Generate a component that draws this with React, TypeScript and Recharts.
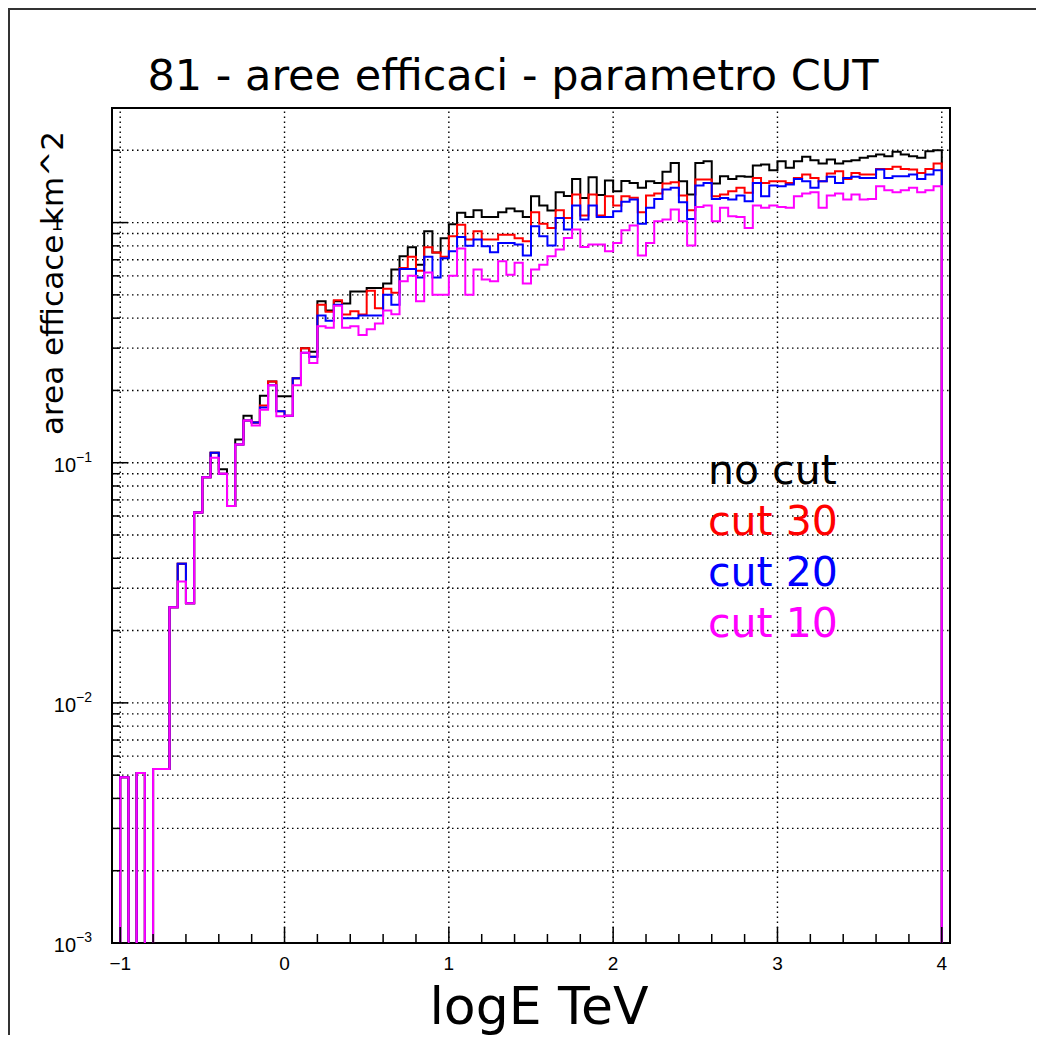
import React from "react";
import { LineChart, Line, XAxis, YAxis, CartesianGrid, ReferenceLine, ReferenceArea } from "recharts";

// histogram binning: 100 bins of 0.05 in logE, from -1 to 4
const BIN_START = -1;
const BIN_WIDTH = 0.05;
// empty bins (value 0) cannot sit on a log axis, push them below the frame
const FLOOR = 1e-4;

const noCut = [
  0.0049, 0, 0.0051, 0, 0.0053, 0.0053, 0.025, 0.038, 0.026, 0.062,
  0.087, 0.11, 0.094, 0.066, 0.125, 0.157, 0.147, 0.19, 0.218, 0.189,
  0.189, 0.225, 0.3, 0.29, 0.47, 0.43, 0.47, 0.46, 0.517, 0.517,
  0.534, 0.534, 0.557, 0.637, 0.724, 0.79, 0.668, 0.92, 0.75, 0.86,
  0.985, 1.1, 1.056, 1.125, 1.056, 1.056, 1.104, 1.144, 1.115, 1.056,
  1.287, 1.177, 1.122, 1.338, 1.29, 1.52, 1.267, 1.545, 1.304, 1.496,
  1.35, 1.49, 1.463, 1.395, 1.487, 1.463, 1.627, 1.772, 1.487, 1.308,
  1.772, 1.8, 1.454, 1.559, 1.52, 1.559, 1.55, 1.727, 1.745, 1.652,
  1.8, 1.69, 1.8, 1.878, 1.818, 1.76, 1.83, 1.76, 1.8, 1.818,
  1.86, 1.89, 1.92, 1.89, 1.97, 1.92, 1.89, 1.86, 1.98, 2.0,
];

const cut30 = [
  0.0049, 0, 0.0051, 0, 0.0053, 0.0053, 0.025, 0.038, 0.026, 0.062,
  0.087, 0.11, 0.09, 0.066, 0.119, 0.15, 0.147, 0.173, 0.218, 0.164,
  0.157, 0.225, 0.3, 0.276, 0.455, 0.425, 0.475, 0.414, 0.427, 0.414,
  0.52, 0.44, 0.53, 0.51, 0.647, 0.72, 0.63, 0.79, 0.75, 0.72,
  0.877, 0.98, 0.85, 0.92, 0.85, 0.85, 0.89, 0.89, 0.86, 0.836,
  1.104, 0.99, 0.95, 1.125, 1.046, 1.308, 1.07, 1.308, 1.07, 1.287,
  1.177, 1.287, 1.27, 1.104, 1.296, 1.321, 1.454, 1.472, 1.296, 1.125,
  1.511, 1.511, 1.287, 1.308, 1.35, 1.395, 1.33, 1.535, 1.463, 1.487,
  1.487, 1.463, 1.535, 1.585, 1.535, 1.487, 1.6, 1.636, 1.52, 1.61,
  1.585, 1.585, 1.673, 1.673, 1.706, 1.673, 1.662, 1.61, 1.673, 1.76,
];

const cut20 = [
  0.0049, 0, 0.0051, 0, 0.0053, 0.0053, 0.025, 0.038, 0.026, 0.062,
  0.087, 0.11, 0.09, 0.066, 0.119, 0.15, 0.147, 0.17, 0.21, 0.164,
  0.157, 0.225, 0.287, 0.276, 0.41, 0.39, 0.455, 0.4, 0.4, 0.41,
  0.41, 0.41, 0.5, 0.455, 0.64, 0.64, 0.59, 0.72, 0.59, 0.71,
  0.76, 0.87, 0.8, 0.85, 0.797, 0.752, 0.823, 0.823, 0.81, 0.729,
  0.965, 0.877, 0.802, 1.046, 0.935, 1.177, 1.03, 1.177, 1.056, 1.056,
  1.115, 1.22, 1.247, 0.99, 1.152, 1.255, 1.373, 1.395, 1.215, 1.036,
  1.426, 1.463, 1.255, 1.267, 1.247, 1.296, 1.227, 1.463, 1.287, 1.426,
  1.417, 1.44, 1.52, 1.487, 1.395, 1.487, 1.55, 1.463, 1.535, 1.55,
  1.535, 1.535, 1.662, 1.535, 1.56, 1.56, 1.585, 1.52, 1.585, 1.652,
];

const cut10 = [
  0.0049, 0, 0.0051, 0, 0.0053, 0.0053, 0.025, 0.032, 0.026, 0.062,
  0.087, 0.105, 0.09, 0.066, 0.119, 0.15, 0.143, 0.166, 0.21, 0.156,
  0.157, 0.21, 0.287, 0.26, 0.37, 0.365, 0.45, 0.365, 0.37, 0.34,
  0.36, 0.38, 0.43, 0.415, 0.57, 0.6, 0.47, 0.62, 0.5, 0.5,
  0.6, 0.78, 0.5, 0.637, 0.579, 0.57, 0.69, 0.607, 0.68, 0.557,
  0.637, 0.668, 0.724, 0.772, 0.863, 0.935, 0.792, 0.81, 0.81, 0.759,
  0.823, 0.93, 0.972, 0.729, 0.823, 1.013, 1.029, 1.133, 1.013, 0.802,
  1.162, 1.177, 1.013, 1.152, 1.062, 1.056, 0.95, 1.177, 1.152, 1.177,
  1.162, 1.152, 1.287, 1.321, 1.338, 1.152, 1.296, 1.321, 1.247, 1.308,
  1.247, 1.255, 1.417, 1.364, 1.338, 1.364, 1.395, 1.338, 1.364, 1.417,
];

const series = [
  { key: "noCut", label: "no cut", color: "#000000", values: noCut },
  { key: "cut30", label: "cut 30", color: "#ff0000", values: cut30 },
  { key: "cut20", label: "cut 20", color: "#0000ff", values: cut20 },
  { key: "cut10", label: "cut 10", color: "#ff00ff", values: cut10 },
];

const xTicks = [
  -1, -0.8, -0.6, -0.4, -0.2, 0, 0.2, 0.4, 0.6, 0.8, 1, 1.2, 1.4, 1.6, 1.8,
  2, 2.2, 2.4, 2.6, 2.8, 3, 3.2, 3.4, 3.6, 3.8, 4,
];
const xGrid = [-1, 0, 1, 2, 3, 4];
const yTicks = [
  0.001, 0.002, 0.003, 0.004, 0.005, 0.006, 0.007, 0.008, 0.009,
  0.01, 0.02, 0.03, 0.04, 0.05, 0.06, 0.07, 0.08, 0.09,
  0.1, 0.2, 0.3, 0.4, 0.5, 0.6, 0.7, 0.8, 0.9,
  1, 2,
];

const title = "81 - aree efficaci - parametro CUT";
const xTitle = "logE TeV";
const yTitle = "area efficace km^2";

// step rows: a closing floor point at each end so the outline drops to the axis
const nBins = noCut.length;
const rows: Record<string, number>[] = [];
const floorRow = (x: number) => {
  const r: Record<string, number> = { x };
  series.forEach((s) => (r[s.key] = FLOOR));
  return r;
};
rows.push(floorRow(BIN_START));
for (let i = 0; i < nBins; i++) {
  const r: Record<string, number> = { x: +(BIN_START + i * BIN_WIDTH).toFixed(4) };
  series.forEach((s) => (r[s.key] = s.values[i] > 0 ? s.values[i] : FLOOR));
  rows.push(r);
}
rows.push(floorRow(+(BIN_START + nBins * BIN_WIDTH).toFixed(4)));

const tickFont = "'Liberation Sans', Arial, sans-serif";
const textFont = "'DejaVu Sans', Verdana, sans-serif";
const gridDash = "1.5 3.5";

function XTick(props: any) {
  const { x, y, payload } = props;
  const v = payload.value;
  const major = Math.abs(v - Math.round(v)) < 1e-6;
  return (
    <g>
      <line x1={x} x2={x} y1={y} y2={y - (major ? 16 : 9)} stroke="#000" strokeWidth={1.5} />
      {major && (
        <text x={x} y={y + 27} textAnchor="middle" fontSize={19} fontFamily={tickFont} fill="#000">
          {v < 0 ? "\u2212" + Math.abs(v) : String(v)}
        </text>
      )}
    </g>
  );
}

function YTick(props: any) {
  const { x, y, payload } = props;
  const v = payload.value;
  const lg = Math.log10(v);
  const exp = Math.round(lg);
  const major = Math.abs(lg - exp) < 1e-6;
  return (
    <g>
      <line x1={x} x2={x + (major ? 16 : 8)} y1={y} y2={y} stroke="#000" strokeWidth={1.5} />
      {major && exp === 0 && (
        <text x={x - 55} y={y + 7} textAnchor="middle" fontSize={20} fontFamily={tickFont} fill="#000">
          1
        </text>
      )}
      {major && exp !== 0 && (
        <text x={x - 20} y={y + 9} textAnchor="end" fontSize={20} fontFamily={tickFont} fill="#000">
          10
          <tspan dy={-10} fontSize={14}>
            {"\u2212" + Math.abs(exp)}
          </tspan>
        </text>
      )}
    </g>
  );
}

export default function App() {
  return (
    <div style={{ position: "relative", width: 1036, height: 1027, overflow: "hidden", background: "#fff" }}>
      <LineChart
        width={1036}
        height={1027}
        data={rows}
        margin={{ top: 100, right: 94, bottom: 32, left: 0 }}
      >
        <CartesianGrid vertical={false} stroke="#000" strokeDasharray={gridDash} strokeWidth={1.4} />
        {xGrid.map((v) => (
          <ReferenceLine key={v} x={v} stroke="#000" strokeDasharray={gridDash} strokeWidth={1.4} />
        ))}
        <XAxis
          dataKey="x"
          type="number"
          domain={[-1.05, 4.05]}
          allowDataOverflow
          ticks={xTicks}
          interval={0}
          tick={<XTick />}
          tickLine={false}
          axisLine={false}
          tickSize={0}
          tickMargin={0}
          height={60}
        />
        <YAxis
          type="number"
          scale="log"
          domain={[0.001, 3]}
          allowDataOverflow
          ticks={yTicks}
          interval={0}
          tick={<YTick />}
          tickLine={false}
          axisLine={false}
          tickSize={0}
          tickMargin={0}
          width={104}
        />
        {series.map((s) => (
          <Line
            key={s.key}
            type="stepAfter"
            dataKey={s.key}
            stroke={s.color}
            strokeWidth={2}
            dot={false}
            activeDot={false}
            isAnimationActive={false}
          />
        ))}
        <ReferenceArea
          x1={-1.05}
          x2={4.05}
          y1={0.001}
          y2={3}
          fill="none"
          stroke="#000"
          strokeWidth={2}
          ifOverflow="visible"
        />
      </LineChart>
      <svg
        width={1036}
        height={1027}
        style={{ position: "absolute", left: 0, top: 0, pointerEvents: "none" }}
      >
        <line x1={1} y1={0} x2={1} y2={1027} stroke="#333" strokeWidth={2} />
        <line x1={0} y1={1} x2={1036} y2={1} stroke="#333" strokeWidth={2} />
        <text x={505} y={82} textAnchor="middle" fontSize={43} fontFamily={textFont} fill="#000">
          {title}
        </text>
        <text x={531} y={1016} textAnchor="middle" fontSize={52} fontFamily={textFont} fill="#000">
          {xTitle}
        </text>
        <text
          x={55}
          y={275}
          textAnchor="middle"
          fontSize={31}
          fontFamily={textFont}
          fill="#000"
          transform="rotate(-90 55 275)"
        >
          {yTitle}
        </text>
        {series.map((s, i) => (
          <text key={s.key} x={700} y={476 + i * 51} fontSize={41} fontFamily={textFont} fill={s.color}>
            {s.label}
          </text>
        ))}
      </svg>
    </div>
  );
}
